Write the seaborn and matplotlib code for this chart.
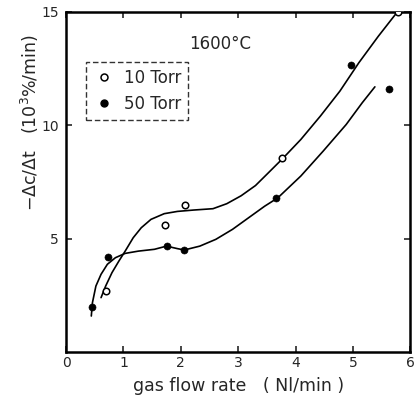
import matplotlib
matplotlib.use("Agg")
import matplotlib.pyplot as plt
import seaborn as sns
from matplotlib.lines import Line2D

# data points
x10 = [0.70, 1.73, 2.07, 3.77, 5.78]
y10 = [2.7, 5.6, 6.5, 8.55, 15.0]
x50 = [0.46, 0.73, 1.75, 2.05, 3.66, 4.97, 5.62]
y50 = [2.0, 4.2, 4.7, 4.5, 6.8, 12.65, 11.6]

# hand-drawn curves, points read along them
cx10 = [0.61, 0.69, 0.80, 0.92, 1.03, 1.17, 1.31, 1.48, 1.71, 1.94, 2.22,
        2.56, 2.80, 3.05, 3.30, 3.50, 3.77, 4.09, 4.43, 4.77, 5.10, 5.44, 5.78]
cy10 = [2.41, 2.92, 3.51, 4.02, 4.46, 5.05, 5.49, 5.86, 6.11, 6.21, 6.27,
        6.33, 6.55, 6.90, 7.35, 7.85, 8.53, 9.38, 10.41, 11.51, 12.76, 13.93, 15.03]
cx50 = [0.44, 0.46, 0.52, 0.61, 0.72, 0.86, 1.03, 1.26, 1.54, 1.75, 1.94,
        2.06, 2.33, 2.61, 2.90, 3.18, 3.46, 3.69, 4.09, 4.48, 4.88, 5.16, 5.38]
cy50 = [1.60, 2.19, 2.92, 3.44, 3.88, 4.17, 4.36, 4.46, 4.54, 4.68, 4.57,
        4.51, 4.68, 4.98, 5.42, 5.93, 6.44, 6.81, 7.77, 8.87, 10.04, 11.00, 11.70]

xticks = [0, 1, 2, 3, 4, 5, 6]
yticks = [5, 10, 15]
labels = ["10 Torr", "50 Torr"]

sns.set_style("ticks")
plt.rcParams['font.family'] = ['DejaVu Sans']

fig = plt.figure(figsize=(4.18, 3.99), dpi=100)
ax = fig.add_axes([0.158, 0.117, 0.824, 0.853])

sns.lineplot(x=cx10, y=cy10, ax=ax, color="black", lw=1.2, sort=False)
sns.lineplot(x=cx50, y=cy50, ax=ax, color="black", lw=1.2, sort=False)
sns.scatterplot(x=x10, y=y10, ax=ax, marker="o", facecolor="white",
                edgecolor="black", linewidth=1.1, s=22, zorder=3)
sns.scatterplot(x=x50, y=y50, ax=ax, marker="o", color="black",
                edgecolor="black", s=26, zorder=3)

ax.set_xlim(0, 6)
ax.set_ylim(0, 15)
ax.set_xticks(xticks)
ax.set_yticks(yticks)
ax.tick_params(direction="in", top=True, right=True, length=4, width=1.2,
               labelsize=10, pad=5)
ax.tick_params(axis="x", pad=3)
for s in ax.spines.values():
    s.set_linewidth(1.8)
    s.set_color("black")

ax.set_xlabel("gas flow rate   ( Nl/min )", fontsize=12.5, labelpad=5)
fig.text(0.072, 0.694, "−Δc/Δt   (10$^3$%/min)", rotation=90,
         fontsize=12.5, ha="center", va="center")

ax.text(2.15, 13.35, "1600°C", fontsize=12)

h = [Line2D([], [], ls="none", marker="o", mfc="white", mec="black", ms=5, mew=1.1),
     Line2D([], [], ls="none", marker="o", mfc="black", mec="black", ms=5)]
leg = ax.legend(h, labels, loc="upper left",
                bbox_to_anchor=(0.058, 0.853), frameon=True, fontsize=12,
                handletextpad=0.5, borderpad=0.4, labelspacing=0.5,
                handlelength=1.4, borderaxespad=0, fancybox=False,
                edgecolor="black")
leg.get_frame().set_linewidth(1.0)
leg.get_frame().set_linestyle((0, (4, 2)))

fig.savefig("out.png", dpi=100)
